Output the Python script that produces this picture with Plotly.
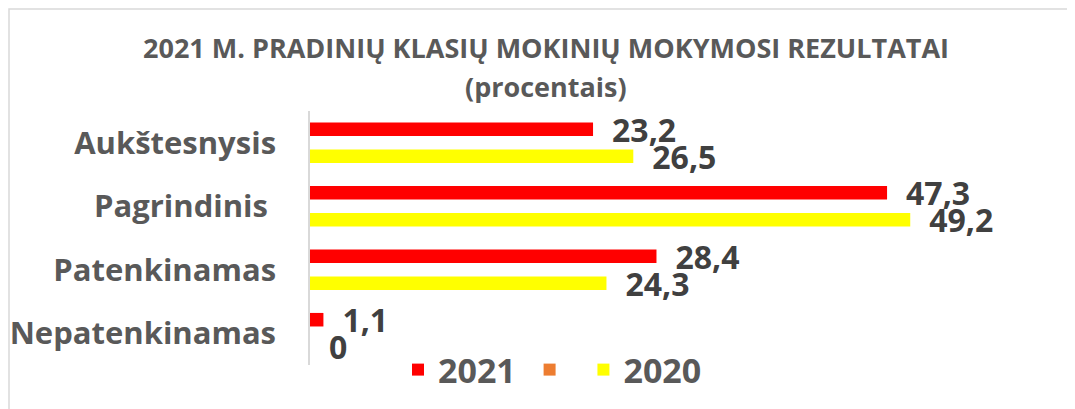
import plotly.graph_objects as go

categories = ["Aukštesnysis", "Pagrindinis", "Patenkinamas", "Nepatenkinamas"]
tick_labels = ["Aukštesnysis", "Pagrindinis\u00a0", "Patenkinamas", "Nepatenkinamas"]
values_2021 = [23.2, 47.3, 28.4, 1.1]
values_empty = [None, None, None, None]
values_2020 = [26.5, 49.2, 24.3, 0]
series_names = ["2021\u00a0", "\u00a0", "2020"]

FONT = "Open Sans"
# page body has an 8px margin: work in reference pixels and shift by OFF
OFF = 8
W, H = 1075 - OFF, 409 - OFF
# plot area in reference pixels
PL, PR, PT, PB = 310, 1042, 111, 365
L, R, T, B = PL - OFF, W - (PR - OFF), PT - OFF, H - (PB - OFF)
PW, PH = PR - PL, PB - PT


def fmt(v):
    if v is None:
        return ""
    return "\u2002" + f"{v:g}".replace(".", ",")


def px_x(p):
    return (p - PL) / PW


def px_y(p):
    return (PB - p) / PH


fig = go.Figure()
for name, vals, color in [
    (series_names[0], values_2021, "#FF0000"),
    (series_names[1], values_empty, "#ED7D31"),
    (series_names[2], values_2020, "#FFFF00"),
]:
    fig.add_trace(go.Bar(
        y=categories, x=vals, name=name, orientation="h",
        marker=dict(color=color, line=dict(width=0)),
        text=[fmt(v) for v in vals], textposition="outside",
        textfont=dict(family=FONT, size=32, color="#404040", weight="bold"),
        constraintext="none", cliponaxis=False,
        hoverinfo="x+y",
    ))

fig.update_layout(
    width=W, height=H,
    margin=dict(l=L, r=R, t=T, b=B, autoexpand=False),
    paper_bgcolor="white", plot_bgcolor="white",
    barmode="group", bargap=0.36, bargroupgap=0,
    separators=",.",
    title=dict(
        text="2021 M. PRADINIŲ KLASIŲ MOKINIŲ MOKYMOSI REZULTATAI",
        x=(546 - OFF) / W, xref="container", xanchor="center",
        y=1 - (49 - OFF) / H, yref="container", yanchor="middle",
        font=dict(family=FONT, size=27, color="#595959", weight="bold"),
    ),
    xaxis=dict(range=[0, 60], visible=False, showgrid=False, zeroline=False, fixedrange=True),
    yaxis=dict(
        autorange="reversed", tickvals=categories, ticktext=tick_labels,
        showline=True, linecolor="#D9D9D9", linewidth=1.5,
        ticks="", showgrid=False, ticklabelstandoff=26,
        tickfont=dict(family=FONT, size=31, color="#595959", weight="bold"),
    ),
    legend=dict(
        orientation="h", x=px_x(398), xanchor="left",
        y=px_y(370), yanchor="middle",
        font=dict(family=FONT, size=34, color="#595959", weight="bold"),
        bgcolor="rgba(0,0,0,0)", traceorder="normal",
    ),
    annotations=[dict(
        text="(procentais)", xref="paper", yref="paper",
        x=px_x(546), y=px_y(87), xanchor="center", yanchor="middle",
        showarrow=False,
        font=dict(family=FONT, size=27, color="#595959", weight="bold"),
    )],
    shapes=[dict(
        type="rect", xref="paper", yref="paper",
        x0=px_x(9), x1=px_x(1300), y0=px_y(9), y1=px_y(700),
        line=dict(color="#D9D9D9", width=1.5), fillcolor="rgba(0,0,0,0)",
        layer="below",
    )],
)

fig.write_html("out.html")
